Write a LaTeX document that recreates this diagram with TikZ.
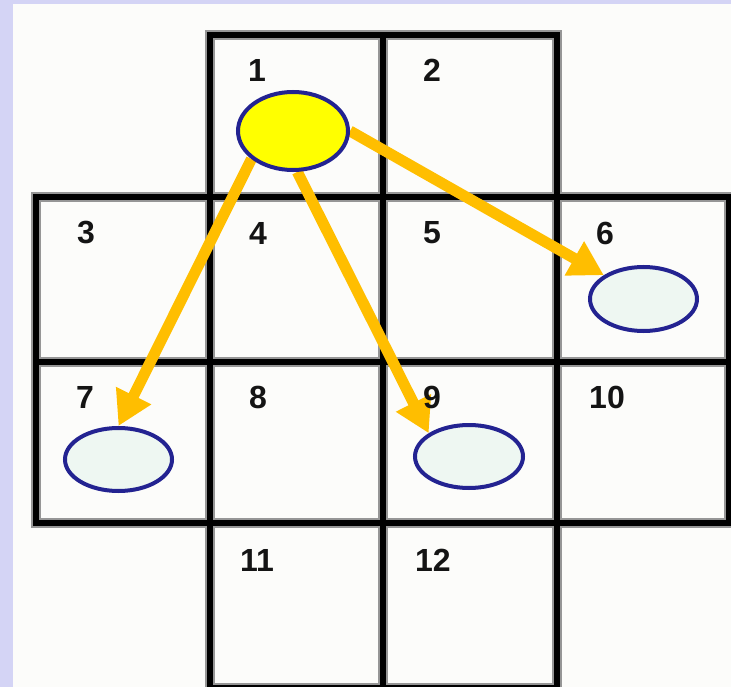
\documentclass[tikz,border=0pt]{standalone}
\usepackage{fontspec}
\setmainfont{Liberation Sans}
\usetikzlibrary{shapes.geometric,arrows.meta}
\definecolor{lav}{RGB}{212,212,245}
\definecolor{paper}{RGB}{252,252,250}
\definecolor{navy}{RGB}{35,35,145}
\definecolor{mint}{RGB}{238,247,242}
\definecolor{amber}{RGB}{255,190,0}
\definecolor{pureyellow}{RGB}{255,255,0}
\definecolor{shadowgray}{RGB}{150,150,150}
\definecolor{ink}{RGB}{20,20,20}
\pgfdeclarelayer{bg}
\pgfdeclarelayer{arrowlayer}
\pgfsetlayers{bg,arrowlayer,main}
\begin{document}
\begin{tikzpicture}[x=1pt,y=-1pt,
  cellnum/.style={font=\fontsize{32}{32}\selectfont\bfseries, text=ink, inner sep=0pt},
  blob/.style={ellipse, draw=navy, line width=4pt, fill=mint, inner sep=0pt},
  arr/.style={draw=amber, line width=11pt, -{Triangle[length=34pt,width=37pt]}},
  gridshadow/.style={draw=shadowgray, line width=10pt, line cap=rect},
  gridline/.style={draw=black, line width=6pt, line cap=rect}]
\useasboundingbox (0,0) rectangle (731,687);
\begin{pgfonlayer}{bg}
\fill[lav] (0,0) rectangle (731,687);
\fill[paper] (13,4) rectangle (731,687);
% grid shadow
\draw[gridshadow] (210,35) -- (557,35);
\draw[gridshadow] (36,197) -- (729,197);
\draw[gridshadow] (36,362) -- (729,362);
\draw[gridshadow] (36,523) -- (729,523);
\draw[gridshadow] (210,688) -- (557,688);
\draw[gridshadow] (36,197) -- (36,523);
\draw[gridshadow] (210,35) -- (210,690);
\draw[gridshadow] (383,35) -- (383,690);
\draw[gridshadow] (557,35) -- (557,690);
\draw[gridshadow] (729,197) -- (729,523);
% grid lines
\draw[gridline] (210,35) -- (557,35);
\draw[gridline] (36,197) -- (729,197);
\draw[gridline] (36,362) -- (729,362);
\draw[gridline] (36,523) -- (729,523);
\draw[gridline] (210,688) -- (557,688);
\draw[gridline] (36,197) -- (36,523);
\draw[gridline] (210,35) -- (210,690);
\draw[gridline] (383,35) -- (383,690);
\draw[gridline] (557,35) -- (557,690);
\draw[gridline] (729,197) -- (729,523);
\end{pgfonlayer}
% labels
\node[cellnum] (l1) at (257,70) {1};
\node[cellnum] (l2) at (432,70) {2};
\node[cellnum] (l3) at (86,233) {3};
\node[cellnum] (l4) at (258,233) {4};
\node[cellnum] (l5) at (432,233) {5};
\node[cellnum] (l6) at (605,233) {6};
\node[cellnum] (l7) at (85,397) {7};
\node[cellnum] (l8) at (258,397) {8};
\node[cellnum] (l9) at (432,397) {9};
\node[cellnum] (l10) at (607,397) {10};
\node[cellnum] (l11) at (257,560) {11};
\node[cellnum] (l12) at (433,560) {12};
% ellipses
\node[blob, fill=pureyellow, minimum width=110pt, minimum height=78pt] (e1) at (293,131) {};
\node[blob, minimum width=107pt, minimum height=64pt] (e6) at (643.5,299) {};
\node[blob, minimum width=107pt, minimum height=63pt] (e7) at (118.5,459.5) {};
\node[blob, minimum width=108pt, minimum height=63pt] (e9) at (469,456.5) {};
% arrows
\begin{pgfonlayer}{arrowlayer}
\draw[arr] (e1.east) -- (e6.149);
\draw[arr] (e1.214) -- (e7.north);
\draw[arr] (e1.276) -- (e9.150);
\end{pgfonlayer}
\end{tikzpicture}
\end{document}
